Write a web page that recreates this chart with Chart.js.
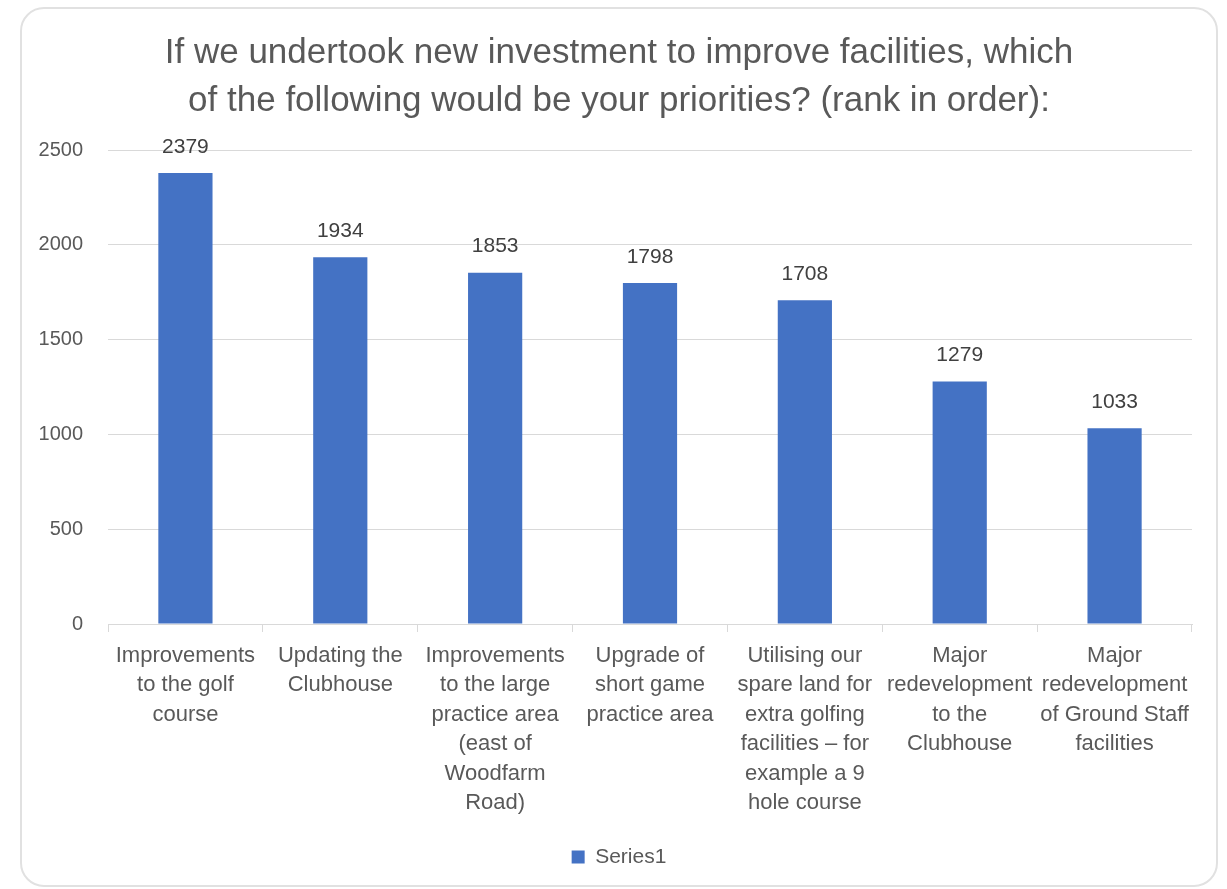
<!DOCTYPE html>
<html>
<head>
<meta charset="utf-8">
<title>Facility investment priorities</title>
<script src="https://cdn.jsdelivr.net/npm/chart.js@4/dist/chart.umd.min.js"></script>
<style>
  html, body { margin: 0; padding: 0; background: #ffffff; }
  #box {
    position: absolute;
    left: 20px;
    top: 7px;
    width: 1194px;
    height: 876px;
    border: 2px solid #e1e1e1;
    border-radius: 24px;
    overflow: hidden;
    background: #ffffff;
  }
  canvas { display: block; }
</style>
</head>
<body>
<div id="box">
  <canvas id="grafico" width="1194" height="876"></canvas>
</div>
<script>
// categorias (ja quebradas em linhas como aparecem no eixo)
const categorias = [
    ['Improvements', 'to the golf', 'course'],
    ['Updating the', 'Clubhouse'],
    ['Improvements', 'to the large', 'practice area', '(east of', 'Woodfarm', 'Road)'],
    ['Upgrade of', 'short game', 'practice area'],
    ['Utilising our', 'spare land for', 'extra golfing', 'facilities \u2013 for', 'example a 9', 'hole course'],
    ['Major', 'redevelopment', 'to the', 'Clubhouse'],
    ['Major', 'redevelopment', 'of Ground Staff', 'facilities']
];
const pontos = [2379, 1934, 1853, 1798, 1708, 1279, 1033];
const nomeSerie = 'Series1';
const titulo = [
    'If we undertook new investment to improve facilities, which',
    'of the following would be your priorities? (rank in order):'
];
const ticksY = [0, 500, 1000, 1500, 2000, 2500];

const fonte = "'Liberation Sans', Arial, sans-serif";
const cinza = '#595959';
const linhas = '#d9d9d9';
const azul = '#4472C4';

// escreve o valor em cima de cada barra
const rotulosValor = {
    id: 'rotulosValor',
    afterDatasetsDraw(chart) {
        const ctx = chart.ctx;
        ctx.save();
        ctx.font = '21px ' + fonte;
        ctx.fillStyle = '#404040';
        ctx.textAlign = 'center';
        ctx.textBaseline = 'middle';
        chart.getDatasetMeta(0).data.forEach((barra, i) => {
            ctx.fillText(String(chart.data.datasets[0].data[i]), barra.x, barra.y - 26);
        });
        ctx.restore();
    }
};

// centraliza titulo e legenda no canvas inteiro, nao so na area sem o padding direito
const centralizar = {
    id: 'centralizar',
    afterLayout(chart) {
        if (chart.titleBlock) chart.titleBlock.left += 24;
        if (chart.legend) chart.legend.left += 24;
    }
};

const ctx = document.getElementById('grafico').getContext('2d');

window.grafico = new Chart(ctx, {
    type: 'bar',
    data: {
        labels: categorias,
        datasets: [{
            label: nomeSerie,
            data: pontos,
            backgroundColor: azul,
            borderWidth: 0,
            barPercentage: 0.35,
            categoryPercentage: 1.0
        }]
    },
    options: {
        responsive: false,
        animation: false,
        devicePixelRatio: 1,
        layout: {
            padding: { left: 0, right: 24, top: 0, bottom: 7.5 }
        },
        plugins: {
            title: {
                display: true,
                text: titulo,
                color: cinza,
                font: { family: fonte, size: 35, weight: 'normal', lineHeight: '48px' },
                padding: { top: 20, bottom: 25 }
            },
            legend: {
                position: 'bottom',
                labels: {
                    color: cinza,
                    boxWidth: 13,
                    boxHeight: 13,
                    padding: 10,
                    font: { family: fonte, size: 21 }
                }
            },
            tooltip: { enabled: false }
        },
        scales: {
            x: {
                grid: {
                    display: true,
                    drawOnChartArea: false,
                    offset: true,
                    tickLength: 8,
                    color: linhas
                },
                border: { color: linhas, width: 1 },
                ticks: {
                    color: cinza,
                    autoSkip: false,
                    maxRotation: 0,
                    minRotation: 0,
                    padding: 9,
                    font: { family: fonte, size: 22, lineHeight: '29.5px' }
                },
                afterFit(scale) { scale.height = 212.5; }
            },
            y: {
                min: 0,
                max: 2500,
                afterBuildTicks(scale) {
                    scale.ticks = ticksY.map(v => ({ value: v }));
                },
                grid: {
                    color: linhas,
                    drawTicks: false
                },
                border: { display: false },
                ticks: {
                    color: cinza,
                    padding: 25,
                    font: { family: fonte, size: 20 },
                    callback: (v) => String(v)
                },
                afterFit(scale) { scale.width = 86; }
            }
        }
    },
    plugins: [rotulosValor, centralizar]
});
</script>
</body>
</html>
